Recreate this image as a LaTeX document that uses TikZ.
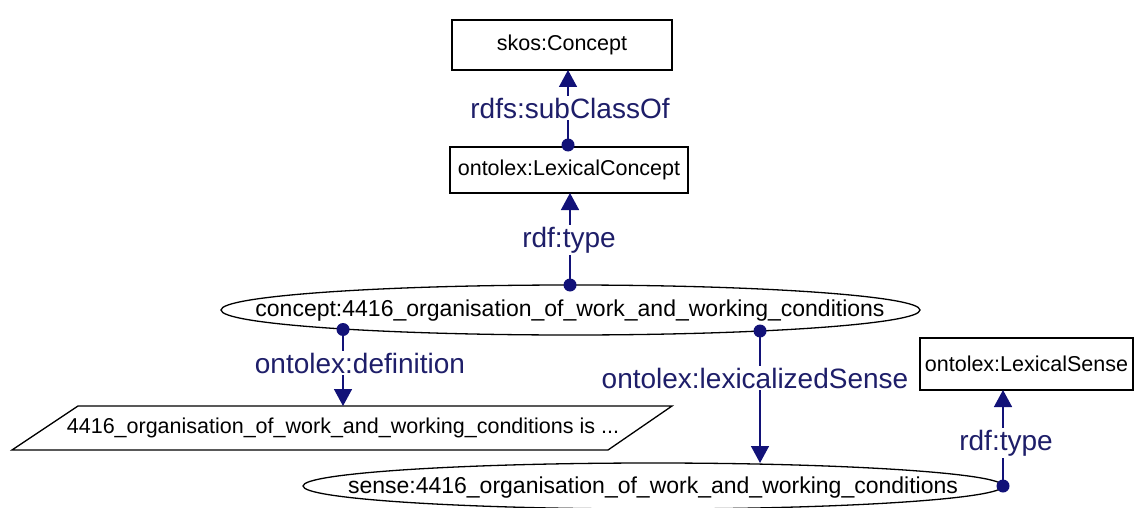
\documentclass[tikz,border=0pt]{standalone}
\usepackage{fontspec}
\setmainfont{Liberation Sans}
\usetikzlibrary{arrows.meta}
\definecolor{edgeblue}{RGB}{18,18,120}
\definecolor{labelblue}{RGB}{30,30,105}
\begin{document}
\begin{tikzpicture}[x=1pt,y=-1pt,
  shapeline/.style={draw=black, line width=1.3pt},
  box/.style={shapeline, rectangle, inner sep=0pt, font=\fontsize{21.5}{24}\selectfont},
  nodetext/.style={inner sep=0pt, font=\fontsize{21.5}{24}\selectfont},
  restext/.style={inner sep=0pt, font=\fontsize{23}{26}\selectfont},
  rel/.style={draw=edgeblue, line width=1.5pt, -{Triangle[width=18pt,length=17pt]}},
  edgelabel/.style={fill=white, text=labelblue, inner sep=1.5pt, font=\fontsize{28}{32}\selectfont},
  dot/.style={circle, fill=edgeblue, inner sep=0pt, minimum size=13pt}]
\useasboundingbox (0,0) rectangle (1134,508);

% class boxes
\node[box, minimum width=220pt, minimum height=50pt] (skos) at (562,45) {skos:Concept};
\node[box, minimum width=238pt, minimum height=46pt] (lexconcept) at (569,170) {ontolex:LexicalConcept};
\node[box, minimum width=213pt, minimum height=52pt] (lexsense) at (1026.5,364) {ontolex:LexicalSense};

% concept resource (ellipse)
\draw[shapeline] (570.5,310) ellipse [x radius=349.5, y radius=25];
\node[restext] (concept) at (570,311) {concept:4416\_organisation\_of\_work\_and\_working\_conditions};

% sense resource (ellipse)
\draw[shapeline] (653,486) ellipse [x radius=350, y radius=23];
\node[restext] (sense) at (653,488) {sense:4416\_organisation\_of\_work\_and\_working\_conditions};

% literal (parallelogram)
\draw[shapeline] (78,406) -- (672,406) -- (608,450) -- (12,450) -- cycle;
\node[nodetext] (definition) at (343,428) {4416\_organisation\_of\_work\_and\_working\_conditions is ...};

% anchor points on the shapes
\coordinate (skosS) at (568,70);
\coordinate (lcS) at (570,193);
\coordinate (lsS) at (1003,390);
\coordinate (defN) at (343,406);
\coordinate (senseN) at (760,463);

% property edges
\node[dot] (d1) at (568,145) {};
\draw[rel] (d1.center) -- (skosS);
\node[edgelabel] (l1) at (570,108) {rdfs:subClassOf};

\node[dot] (d2) at (570,285) {};
\draw[rel] (d2.center) -- (lcS);
\node[edgelabel] (l2) at (569,240) {rdf:type};

\node[dot] (d3) at (343,329.5) {};
\draw[rel] (d3.center) -- (defN);
\node[edgelabel] (l3) at (360,363) {ontolex:definition};

\node[dot] (d4) at (760,331) {};
\draw[rel] (d4.center) -- (senseN);
\node[edgelabel] (l4) at (755,378) {ontolex:lexicalizedSense};

\node[dot] (d5) at (1003,486) {};
\draw[rel] (d5.center) -- (lsS);
\node[edgelabel] (l5) at (1006,443) {rdf:type};
\end{tikzpicture}
\end{document}
